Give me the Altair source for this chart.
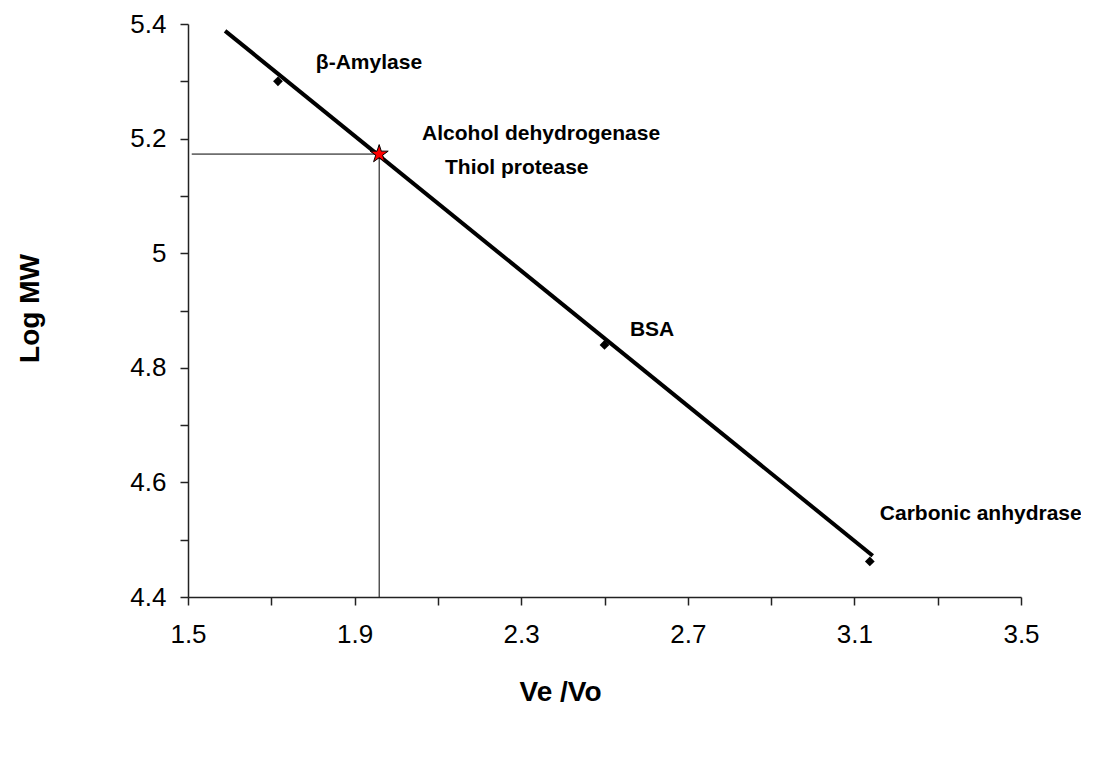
import altair as alt
import pandas as pd

# Standards (diamond markers)
std_x = [1.716, 2.50, 3.137]
std_y = [5.30, 4.84, 4.462]

# Unknown sample (star)
unk_x = [1.959]
unk_y = [5.173]

# Trend line end points
fit_x = [1.589, 3.144]
fit_y = [5.388, 4.472]

# Annotation labels
lab_text = ["β-Amylase", "Alcohol dehydrogenase", "Thiol protease", "BSA", "Carbonic anhydrase"]
lab_x = [1.807, 2.062, 2.117, 2.561, 3.161]
lab_y = [5.332, 5.208, 5.149, 4.866, 4.545]

# Guide lines from the unknown to the axes
guide_x = [1.509, 1.959]
guide_x2 = [1.959, 1.959]
guide_y = [5.173, 5.173]
guide_y2 = [5.173, 4.4]

x_ticks = [round(1.5 + 0.2 * i, 1) for i in range(11)]
y_ticks = [round(4.4 + 0.1 * i, 1) for i in range(11)]

STAR = ("M0,-1L0.2245,-0.309L0.951,-0.309L0.3633,0.118L0.588,0.809L0,0.382"
        "L-0.588,0.809L-0.3633,0.118L-0.951,-0.309L-0.2245,-0.309Z")

rows = []
for a, b in zip(std_x, std_y):
    rows.append({"kind": "std", "x": a, "y": b})
for a, b in zip(unk_x, unk_y):
    rows.append({"kind": "unk", "x": a, "y": b})
for a, b in zip(fit_x, fit_y):
    rows.append({"kind": "fit", "x": a, "y": b})
for t, a, b in zip(lab_text, lab_x, lab_y):
    rows.append({"kind": "lab", "x": a, "y": b, "t": t})
for a, a2, b, b2 in zip(guide_x, guide_x2, guide_y, guide_y2):
    rows.append({"kind": "guide", "x": a, "x2": a2, "y": b, "y2": b2})
df = pd.DataFrame(rows)

xs = alt.Scale(domain=[1.5, 3.5], nice=False, zero=False)
ys = alt.Scale(domain=[4.4, 5.4], nice=False, zero=False)

x_axis = alt.Axis(
    orient="bottom",
    values=x_ticks,
    labelFlush=False,
    labelExpr="(round(datum.value*10) - 15) % 4 == 0 ? format(datum.value, '.1f') : ''",
    title="Ve /Vo",
    titleX=372, titleY=95, titleBaseline="middle", titleAnchor="start", titleAlign="center",
)
y_axis = alt.Axis(
    orient="left",
    values=y_ticks,
    labelFlush=False,
    labelExpr="round(datum.value*10) % 2 == 0 ? format(datum.value, '.1~f') : ''",
    title="Log MW",
    titleX=-158, titleY=284, titleBaseline="middle", titleAnchor="start", titleAlign="center",
)

X = alt.X("x:Q", scale=xs, axis=x_axis)
Y = alt.Y("y:Q", scale=ys, axis=y_axis)

base = alt.Chart(df)

guides = base.mark_rule(color="black", strokeWidth=1).encode(
    x=X, x2="x2:Q", y=Y, y2="y2:Q"
).transform_filter(alt.datum.kind == "guide")

fit = base.mark_line(color="black", strokeWidth=4).encode(
    x=X, y=Y
).transform_filter(alt.datum.kind == "fit")

pts = base.mark_point(shape="diamond", filled=True, color="black", size=95, opacity=1).encode(
    x=X, y=Y
).transform_filter((alt.datum.kind == "std") | (alt.datum.kind == "unk"))

star = base.mark_point(shape=STAR, filled=True, color="#ff0000", stroke="black",
                       strokeWidth=1, size=360, opacity=1).encode(
    x=X, y=Y
).transform_filter(alt.datum.kind == "unk")

labels = base.mark_text(align="left", baseline="middle", fontWeight="bold",
                        fontSize=21, color="black").encode(
    x=X, y=Y, text="t:N"
).transform_filter(alt.datum.kind == "lab")

chart = alt.layer(guides, fit, pts, star, labels).properties(
    width=833, height=573,
    autosize=alt.AutoSizeParams(type="none"),
    padding={"left": 180, "top": 16, "right": 60, "bottom": 120},
).configure(
    font="Liberation Sans"
).configure_view(stroke=None).configure_axis(
    grid=False,
    domainColor="#222", domainWidth=1.5,
    tickColor="#222", tickWidth=1.5, tickSize=8,
    labelFont="Liberation Sans", labelFontSize=26, labelColor="black",
    titleFont="Liberation Sans", titleFontSize=28, titleFontWeight="bold", titleColor="black",
).configure_axisX(labelPadding=16).configure_axisY(labelPadding=14)

chart.save("out.html", embed_options={"renderer": "svg", "actions": False})
